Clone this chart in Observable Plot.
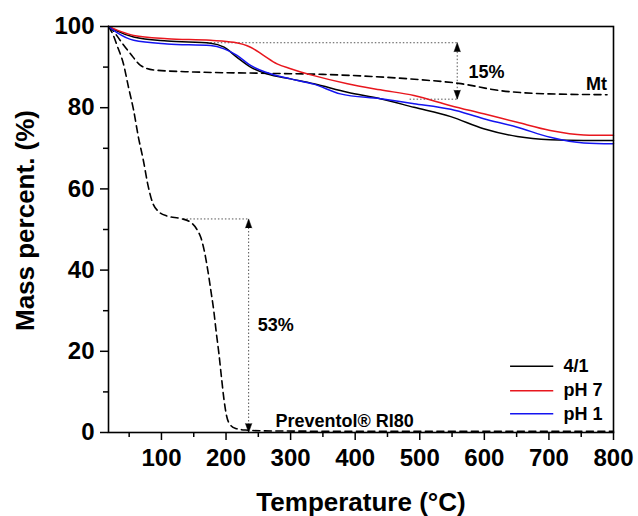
<!DOCTYPE html>
<html>
<head>
<meta charset="utf-8">
<script src="https://cdn.jsdelivr.net/npm/d3@7"></script>
<script src="https://cdn.jsdelivr.net/npm/@observablehq/plot@0.6"></script>
<style>
  html, body { margin: 0; padding: 0; background: #fff; }
  #chart { width: 638px; height: 516px; }
</style>
</head>
<body>
<div id="chart"></div>
<script>
// ---- data ----
const xTicks = [100, 200, 300, 400, 500, 600, 700, 800];
const xMinorTicks = [50, 150, 250, 350, 450, 550, 650, 750];
const yTicks = [0, 20, 40, 60, 80, 100];
const yMinorTicks = [10, 30, 50, 70, 90];

const blackT = [18, 30, 57, 109, 176, 197, 217, 238, 264, 300, 336, 388, 439, 491, 548, 599, 651, 702, 754, 800];
const blackM = [100, 99, 97.4, 96.4, 95.9, 94.9, 92.4, 90, 88.3, 87.1, 85.9, 83.8, 82.2, 80.1, 77.8, 74.8, 72.9, 72.1, 71.9, 71.9];

const redT = [18, 30, 57, 109, 176, 212, 238, 258, 279, 300, 336, 388, 439, 491, 548, 599, 651, 702, 754, 800];
const redM = [100, 99.2, 97.8, 97, 96.6, 96.1, 94.9, 92.9, 90.8, 89.6, 87.9, 85.9, 84.4, 83, 80.5, 78.5, 76.4, 74.4, 73.3, 73.2];

const blueT = [18, 30, 57, 109, 176, 197, 217, 238, 264, 300, 336, 377, 439, 491, 548, 599, 651, 702, 754, 800];
const blueM = [100, 98.6, 96.6, 95.7, 95.3, 94.5, 92.9, 90.4, 88.6, 87.1, 85.8, 83.4, 82.2, 81, 79.6, 77.3, 75.2, 72.7, 71.3, 71.1];

const mtT = [18, 25, 32, 41, 52, 67, 88, 150, 250, 350, 425, 500, 560, 625, 700, 790];
const mtM = [100, 99, 97.5, 95.5, 93.3, 90.5, 89.3, 88.8, 88.5, 88.2, 87.7, 86.9, 86, 84.2, 83.4, 83.2];

const prevT = [18, 25, 32, 41, 49, 57, 64, 72, 79, 86, 95, 109, 130, 145, 155, 161, 166, 171, 176, 181, 185, 189, 193, 197, 201, 206, 215, 230, 260, 400, 600, 800];
const prevM = [100, 98, 95, 90.9, 85, 79.3, 73, 67, 61, 56.7, 54.5, 53.3, 52.7, 51.8, 50, 48, 45, 40.7, 35.5, 30, 24.5, 19.4, 13.5, 7.9, 4, 2, 1, 0.6, 0.4, 0.3, 0.3, 0.3];

const seriesNames = ["4/1", "pH 7", "pH 1"];
const seriesColors = ["#000000", "#e8171e", "#1414f0"];

// annotation values
const loss15 = {t: 558, top: 96, bottom: 82.1, topFrom: 171, bottomFrom: 485};
const loss53 = {t: 235, top: 52.6, bottom: 0, topFrom: 134};

// ---- build tables ----
const zip = (T, M) => T.map((t, i) => ({t, m: M[i]}));
const black = zip(blackT, blackM), red = zip(redT, redM), blue = zip(blueT, blueM);
const mt = zip(mtT, mtM), prev = zip(prevT, prevM);

const legendRows = seriesNames.map((name, i) => ({name, color: seriesColors[i], m: [16.3, 10.3, 4.6][i]}));

const dotted = {stroke: "#555", strokeWidth: 1, strokeDasharray: "1.5,2"};
const font = "'Liberation Sans', Arial, sans-serif";

const chart = Plot.plot({
  width: 638,
  height: 516,
  marginLeft: 108,
  marginTop: 26,
  marginRight: 25,
  marginBottom: 84,
  style: {fontFamily: font, fontSize: "24px", fontWeight: "bold", color: "#000", background: "#fff"},
  x: {domain: [18, 800]},
  y: {domain: [0, 100]},
  marks: [
    // annotation dotted guides
    Plot.ruleY([loss15.top], {x1: loss15.topFrom, x2: loss15.t, ...dotted}),
    Plot.ruleY([loss15.bottom], {x1: loss15.bottomFrom, x2: loss15.t, ...dotted}),
    Plot.ruleX([loss15.t], {y1: loss15.bottom, y2: loss15.top, ...dotted}),
    Plot.ruleY([loss53.top], {x1: loss53.topFrom, x2: loss53.t, ...dotted}),
    Plot.ruleX([loss53.t], {y1: loss53.bottom, y2: loss53.top, ...dotted}),
    // arrowheads
    Plot.vector([loss15.top, loss53.top], {x: (d, i) => [loss15.t, loss53.t][i], y: d => d, shape: "spike", anchor: "end", length: 9, r: 3.2, rotate: 0, fill: "#000", stroke: "#000", strokeWidth: 0.5}),
    Plot.vector([loss15.bottom, loss53.bottom], {x: (d, i) => [loss15.t, loss53.t][i], y: d => d, shape: "spike", anchor: "end", length: 9, r: 3.2, rotate: 180, fill: "#000", stroke: "#000", strokeWidth: 0.5}),
    // dashed reference curves
    Plot.line(mt, {x: "t", y: "m", stroke: "#000", strokeWidth: 1.6, strokeDasharray: "7,4.5", curve: "monotone-x"}),
    Plot.line(prev, {x: "t", y: "m", stroke: "#000", strokeWidth: 1.6, strokeDasharray: "7,4.5", curve: "monotone-x"}),
    // solid curves
    Plot.line(black, {x: "t", y: "m", stroke: seriesColors[0], strokeWidth: 1.5, curve: "monotone-x"}),
    Plot.line(red, {x: "t", y: "m", stroke: seriesColors[1], strokeWidth: 1.5, curve: "monotone-x"}),
    Plot.line(blue, {x: "t", y: "m", stroke: seriesColors[2], strokeWidth: 1.5, curve: "monotone-x"}),
    // axes
    Plot.axisX({ticks: xTicks, tickSize: 8, tickPadding: 8, label: null, stroke: "#000", strokeWidth: 1.5, fontSize: 24}),
    Plot.axisX({ticks: xMinorTicks, tickSize: 5, tickFormat: () => "", label: null, stroke: "#000", strokeWidth: 1.5}),
    Plot.axisY({ticks: yTicks, tickSize: 8, tickPadding: 6, label: null, stroke: "#000", strokeWidth: 1.5, fontSize: 24}),
    Plot.axisY({ticks: yMinorTicks, tickSize: 5, tickFormat: () => "", label: null, stroke: "#000", strokeWidth: 1.5}),
    Plot.frame({stroke: "#000", strokeWidth: 1.6}),
    // annotation texts
    Plot.text(["15%"], {x: 575.5, y: 88.8, text: d => d, textAnchor: "start", fontSize: 18, fontWeight: "bold"}),
    Plot.text(["Mt"], {x: 790, y: 85.9, text: d => d, textAnchor: "end", fontSize: 18, fontWeight: "bold"}),
    Plot.text(["53%"], {x: 249, y: 26.4, text: d => d, textAnchor: "start", fontSize: 18, fontWeight: "bold"}),
    Plot.text(["Preventol® RI80"], {x: 276.6, y: 2.8, text: d => d, textAnchor: "start", fontSize: 18, fontWeight: "bold"}),
    // legend
    Plot.ruleY(legendRows, {y: "m", x1: 640.6, x2: 707.5, stroke: "color", strokeWidth: 1.5}),
    Plot.text(legendRows, {x: 722.7, y: "m", text: "name", textAnchor: "start", fontSize: 18, fontWeight: "bold"}),
    // axis titles
    Plot.text(["Temperature (°C)"], {frameAnchor: "bottom", dy: 78, text: d => d, textAnchor: "middle", fontSize: 26, fontWeight: "bold"}),
    Plot.text(["Mass percent. (%)"], {frameAnchor: "left", dx: -83, dy: -9, rotate: -90, text: d => d, textAnchor: "middle", fontSize: 26, fontWeight: "bold"})
  ]
});
document.getElementById("chart").appendChild(chart);
</script>
</body>
</html>
